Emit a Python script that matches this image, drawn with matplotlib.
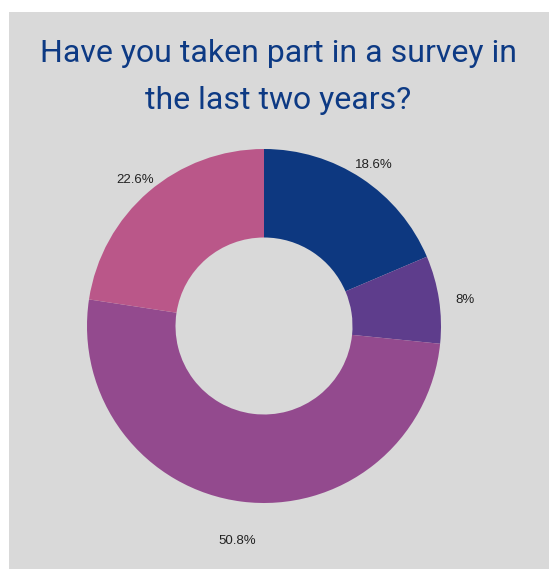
import matplotlib
matplotlib.use("Agg")
import matplotlib.pyplot as plt
from matplotlib.patches import Rectangle
import numpy as np

title = "Have you taken part in a survey in\nthe last two years?"
values = [18.6, 8, 50.8, 22.6]
labels = ["18.6%", "8%", "50.8%", "22.6%"]
colors = ["#0d3880", "#5e3d8c", "#934a8e", "#ba5789"]

W, H = 549, 569
fig = plt.figure(figsize=(W / 100, H / 100), dpi=100, facecolor="white")
fig.patches.append(Rectangle((9 / W, 0), 1 - 9 / W, 1 - 12 / H, transform=fig.transFigure,
                             facecolor="#d9d9d9", edgecolor="none", zorder=-10))

fig.text(278 / W, 1 - 77 / H, title, ha="center", va="center", fontsize=23,
         color="#0d3a84", family="Roboto", linespacing=1.75, multialignment="center")

cx, cy, r = 264, 326, 177
ax = fig.add_axes([(cx - r) / W, (H - cy - r) / H, 2 * r / W, 2 * r / H], zorder=5)
ax.set_facecolor("none")
wedges, _ = ax.pie(values, colors=colors, startangle=90, counterclock=False,
                   wedgeprops=dict(width=0.5, linewidth=0))
ax.set_xlim(-1, 1)
ax.set_ylim(-1, 1)
ax.set_aspect("equal")
ax.axis("off")

total = sum(values)
cum = 0
dists = [1.12, 1.15, 1.2, 1.12]
for v, lab, d in zip(values, labels, dists):
    mid = 90 - (cum + v / 2) / total * 360
    cum += v
    a = np.deg2rad(mid)
    ax.annotate(lab, (d * np.cos(a), d * np.sin(a)), xytext=(0, -3),
                textcoords="offset points", ha="center", va="center",
                annotation_clip=False,
                fontsize=9.5, family="Liberation Sans", color="#222222")

fig.savefig("out.png", dpi=100, facecolor=fig.get_facecolor())
